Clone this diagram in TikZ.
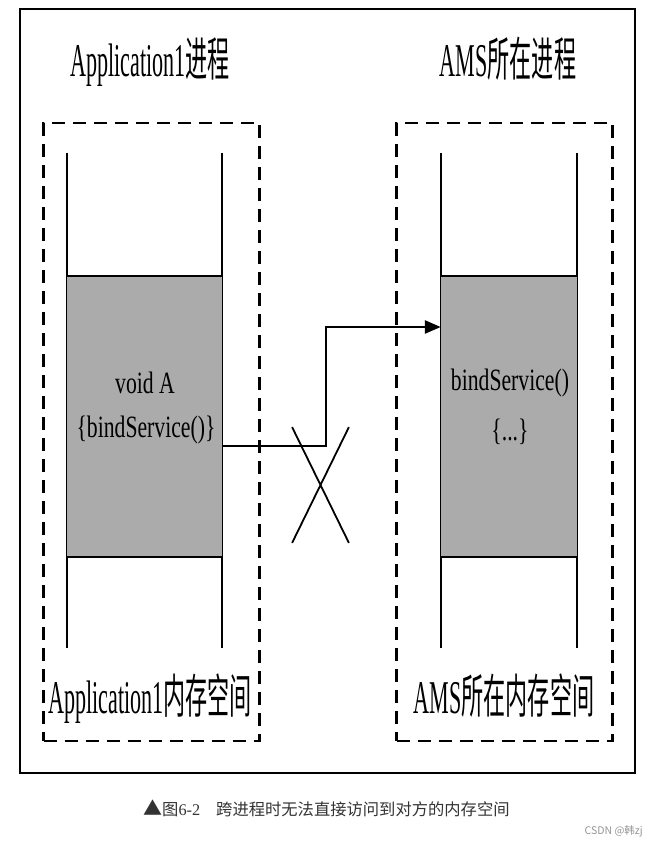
\documentclass[tikz,border=0pt]{standalone}
\usepackage{fontspec}
\setmainfont{Liberation Serif}
\newfontfamily\cjk{Noto Sans CJK SC}
\usetikzlibrary{arrows.meta,shapes.misc}
\definecolor{memgray}{RGB}{171,171,171}
\definecolor{capgray}{RGB}{51,51,51}
\definecolor{markgray}{RGB}{150,150,150}
\newcommand{\tallfont}{\fontsize{47}{50}\selectfont}
\newcommand{\codefont}{\fontsize{31}{33}\selectfont}
\newcommand{\narrow}[2]{\scalebox{#1}[1]{#2}}

\begin{document}
\begin{tikzpicture}[x=1pt, y=-1pt,
    procbox/.style={draw, line width=2.5pt, dash pattern=on 13pt off 8pt,
        minimum width=216pt, minimum height=618pt, inner sep=0pt},
    memwall/.style={line width=1.8pt},
    memblock/.style={fill=memgray, minimum height=281pt, inner sep=0pt},
    title/.style={font=\tallfont, inner sep=0pt, anchor=base},
    code/.style={font=\codefont, inner sep=0pt, anchor=base}]
    \path[use as bounding box, fill=white] (0,0) rectangle (666,845);
    \draw[line width=2.8pt] (20,9) rectangle (635,773);

    % the two processes
    \node[title] (apptitle) at (150,77) {\narrow{0.47}{Application1{\cjk 进程}}};
    \node[title] (amstitle) at (508,77) {\narrow{0.47}{AMS{\cjk 所在进程}}};
    \node[procbox] (appbox) at (151.5,432) {};
    \node[procbox] (amsbox) at (504.5,432) {};

    % memory columns
    \foreach \x in {67,222,441,577}
        \draw[memwall] (\x,153) -- (\x,648);
    \node[memblock, minimum width=155pt] (memA) at (144.5,416.5) {};
    \node[memblock, minimum width=136pt] (memB) at (509,416.5) {};
    \foreach \m in {memA,memB} {
        \draw[line width=2.5pt] (\m.north west) -- (\m.north east);
        \draw[line width=2.5pt] (\m.south west) -- (\m.south east);
    }

    \node[code] (sigA) at (145,393) {\narrow{0.7}{void A}};
    \node[code] (bodyA) at (146,437) {\narrow{0.7}{\{bindService()\}}};
    \node[code] (sigB) at (510,390) {\narrow{0.7}{bindService()}};
    \node[code] (bodyB) at (510,440) {\narrow{0.7}{\{...\}}};

    \node[title] (appmem) at (150,713) {\narrow{0.47}{Application1{\cjk 内存空间}}};
    \node[title] (amsmem) at (504,713) {\narrow{0.47}{AMS{\cjk 所在内存空间}}};

    % the call that cannot cross
    \coordinate (hop) at (326,386);
    \draw[line width=2.5pt, -{Triangle[length=16pt,width=13pt]}]
        ([yshift=-29.5pt]memA.east) -| (hop) |- ([yshift=89.5pt]memB.west);
    \node[draw, cross out, memwall, minimum width=55pt, minimum height=114pt] (blocked) at (320.5,485) {};

    \node[anchor=base west, inner sep=0pt, text=capgray, font=\fontsize{16.3}{18}\selectfont]
        (caption) at (143,815) {{\cjk\fontsize{19}{18}\selectfont ▲}{\cjk 图}6-2\hspace{16pt}{\cjk 跨进程时无法直接访问到对方的内存空间}};
    \node[anchor=base east, inner sep=0pt, text=markgray, font=\cjk\fontsize{10.5}{12}\selectfont]
        (mark) at (643,834) {CSDN @韩zj};
\end{tikzpicture}
\end{document}
